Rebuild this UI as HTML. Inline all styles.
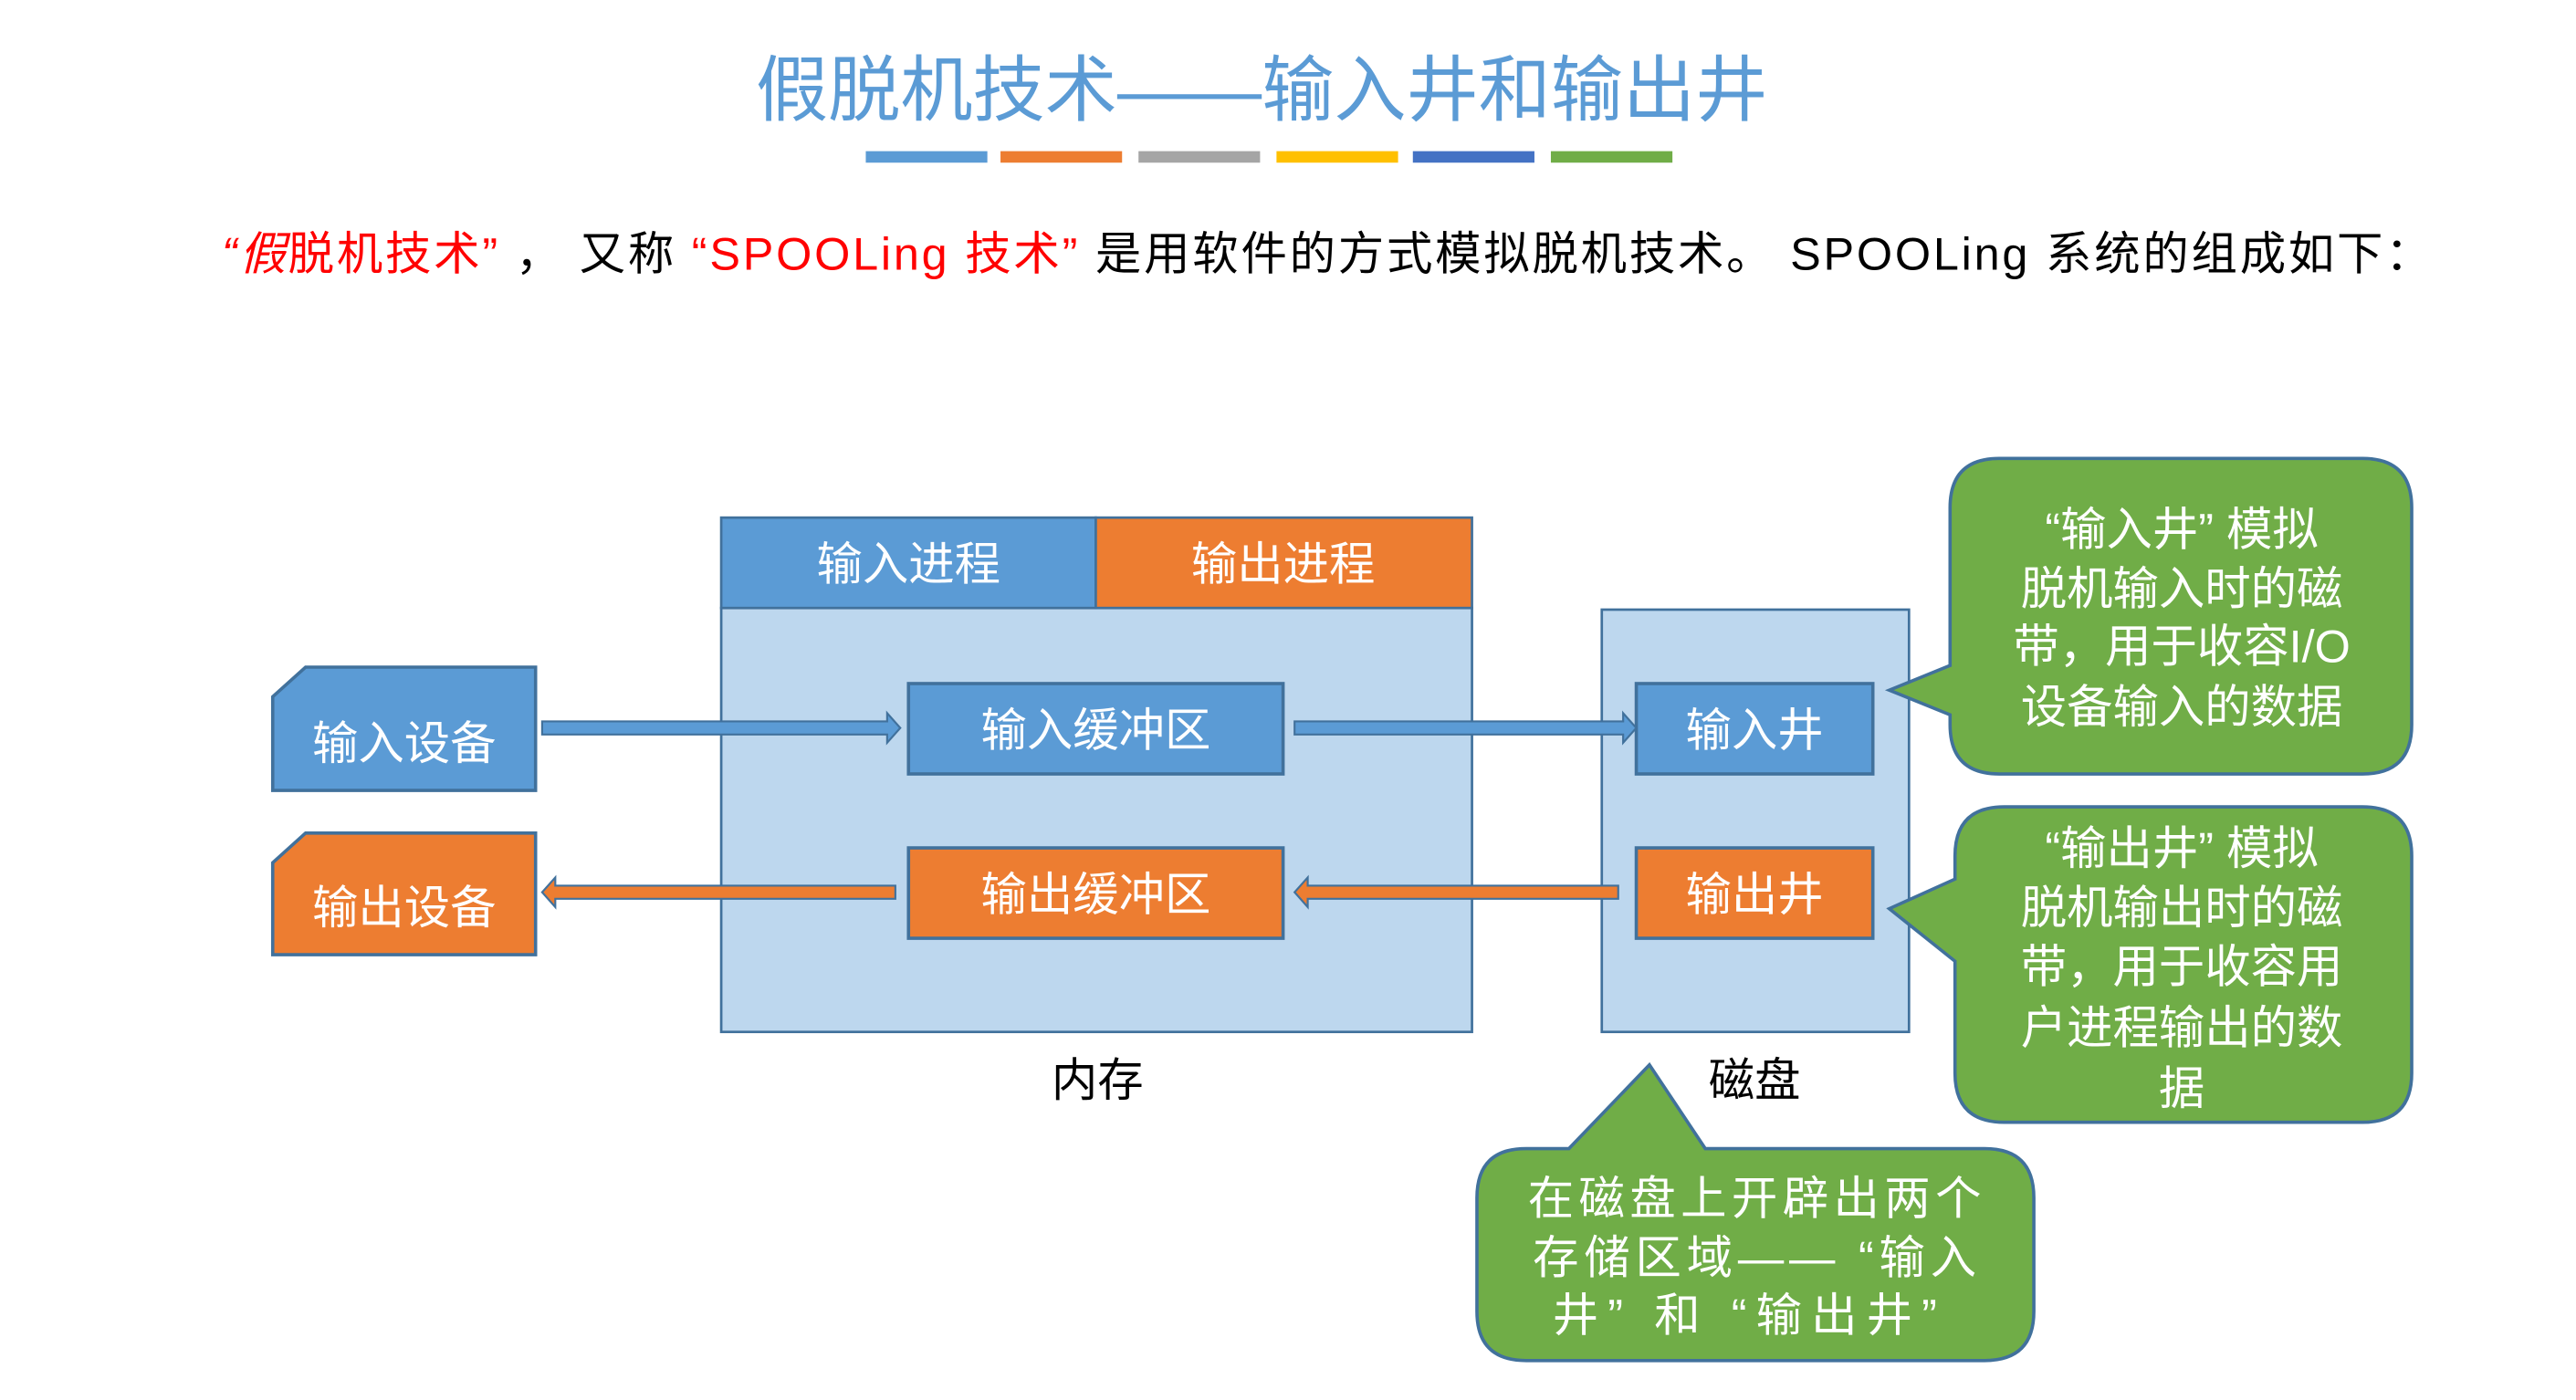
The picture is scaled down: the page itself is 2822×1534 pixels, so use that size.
<!DOCTYPE html>
<html><head><meta charset="utf-8"><style>
html,body{margin:0;padding:0;background:#fff;}
svg{display:block;}
text{font-family:"Liberation Sans","Noto Sans CJK SC",sans-serif;}
</style></head><body>
<svg width="2822" height="1534" viewBox="0 0 1568 852" preserveAspectRatio="none" xmlns="http://www.w3.org/2000/svg">
<rect width="1568" height="852" fill="#fff"/>
<text x="768" y="70" text-anchor="middle" font-size="44" fill="#5b9bd5">假脱机技术——输入井和输出井</text>
<rect x="527" y="92" width="74" height="7" fill="#5b9bd5"/>
<rect x="609" y="92" width="74" height="7" fill="#ed7d31"/>
<rect x="693" y="92" width="74" height="7" fill="#a5a5a5"/>
<rect x="777" y="92" width="74" height="7" fill="#ffc000"/>
<rect x="860" y="92" width="74" height="7" fill="#4472c4"/>
<rect x="944" y="92" width="74" height="7" fill="#70ad47"/>
<text x="135" y="164" font-size="28" fill="#000" textLength="1345" lengthAdjust="spacing"><tspan fill="#ff0000" font-style="italic">“假</tspan><tspan fill="#ff0000">脱机技术” </tspan>， 又称 <tspan fill="#ff0000">“SPOOLing 技术” </tspan>是用软件的方式模拟脱机技术。 SPOOLing 系统的组成如下：</text>

<rect x="439" y="370" width="457" height="258" fill="#bdd7ee" stroke="#41719c" stroke-width="1.5"/>
<rect x="439" y="315" width="228" height="55" fill="#5b9bd5" stroke="#41719c" stroke-width="1.5"/>
<rect x="667" y="315" width="229" height="55" fill="#ed7d31" stroke="#41719c" stroke-width="1.5"/>
<text x="553" y="353" text-anchor="middle" font-size="28" fill="#fff">输入进程</text>
<text x="781" y="353" text-anchor="middle" font-size="28" fill="#fff">输出进程</text>

<rect x="553" y="416" width="228" height="55" fill="#5b9bd5" stroke="#41719c" stroke-width="2"/>
<text x="667" y="454" text-anchor="middle" font-size="28" fill="#fff">输入缓冲区</text>
<rect x="553" y="516" width="228" height="55" fill="#ed7d31" stroke="#41719c" stroke-width="2"/>
<text x="667" y="554" text-anchor="middle" font-size="28" fill="#fff">输出缓冲区</text>

<rect x="975" y="371" width="187" height="257" fill="#bdd7ee" stroke="#41719c" stroke-width="1.5"/>
<rect x="996" y="416" width="144" height="55" fill="#5b9bd5" stroke="#41719c" stroke-width="2"/>
<text x="1068" y="454" text-anchor="middle" font-size="28" fill="#fff">输入井</text>
<rect x="996" y="516" width="144" height="55" fill="#ed7d31" stroke="#41719c" stroke-width="2"/>
<text x="1068" y="554" text-anchor="middle" font-size="28" fill="#fff">输出井</text>

<path d="M186 406 H326 V481 H166 V424 Z" fill="#5b9bd5" stroke="#41719c" stroke-width="2"/>
<text x="246" y="462" text-anchor="middle" font-size="28" fill="#fff">输入设备</text>
<path d="M186 507 H326 V581 H166 V525 Z" fill="#ed7d31" stroke="#41719c" stroke-width="2"/>
<text x="246" y="562" text-anchor="middle" font-size="28" fill="#fff">输出设备</text>

<path d="M330 439 H540 V434 L548 443 L540 452 V447 H330 Z" fill="#5b9bd5" stroke="#41719c" stroke-width="1.2"/>
<path d="M788 439 H988 V434 L996 443 L988 452 V447 H788 Z" fill="#5b9bd5" stroke="#41719c" stroke-width="1.2"/>
<path d="M985 539 H796 V534 L788 543 L796 552 V547 H985 Z" fill="#ed7d31" stroke="#41719c" stroke-width="1.2"/>
<path d="M545 539 H338 V534 L330 543 L338 552 V547 H545 Z" fill="#ed7d31" stroke="#41719c" stroke-width="1.2"/>

<text x="668" y="667" text-anchor="middle" font-size="28" fill="#000">内存</text>
<text x="1068" y="667" text-anchor="middle" font-size="28" fill="#000">磁盘</text>

<path d="M1217 279 H1438 Q1468 279 1468 309 V441 Q1468 471 1438 471 H1217 Q1187 471 1187 441 V435 L1150 420 L1187 405 V309 Q1187 279 1217 279 Z" fill="#70ad47" stroke="#41719c" stroke-width="2"/>
<text font-size="28" fill="#fff" text-anchor="middle"><tspan x="1328" y="332">“输入井” 模拟</tspan><tspan x="1328" y="368">脱机输入时的磁</tspan><tspan x="1328" y="403">带，用于收容I/O</tspan><tspan x="1328" y="440">设备输入的数据</tspan></text>

<path d="M1220 491 H1438 Q1468 491 1468 521 V653 Q1468 683 1438 683 H1220 Q1190 683 1190 653 V585 L1150 553 L1190 535 V521 Q1190 491 1220 491 Z" fill="#70ad47" stroke="#41719c" stroke-width="2"/>
<text font-size="28" fill="#fff" text-anchor="middle"><tspan x="1328" y="526">“输出井” 模拟</tspan><tspan x="1328" y="562">脱机输出时的磁</tspan><tspan x="1328" y="598">带，用于收容用</tspan><tspan x="1328" y="635">户进程输出的数</tspan><tspan x="1328" y="672">据</tspan></text>

<path d="M929 699 H955 L1004 648 L1038 699 H1208 Q1238 699 1238 729 V798 Q1238 828 1208 828 H929 Q899 828 899 798 V729 Q899 699 929 699 Z" fill="#70ad47" stroke="#41719c" stroke-width="2"/>
<text font-size="28" fill="#fff" text-anchor="middle"><tspan x="1068" y="739" textLength="276" lengthAdjust="spacing">在磁盘上开辟出两个</tspan><tspan x="1068" y="775" textLength="270" lengthAdjust="spacing">存储区域—— “输入</tspan><tspan x="1062" y="810" textLength="234" lengthAdjust="spacing">井” 和 “输出井”</tspan></text>
</svg>
</body></html>
